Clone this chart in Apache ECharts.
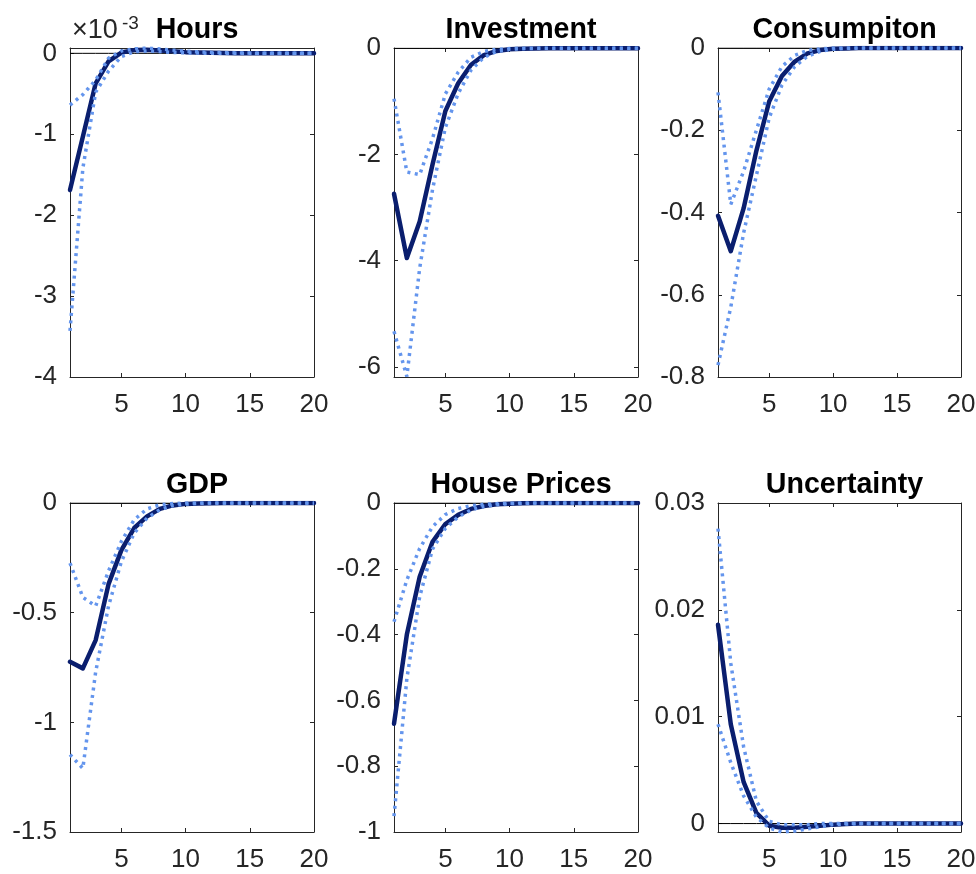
<!DOCTYPE html>
<html>
<head>
<meta charset="utf-8">
<script src="https://cdn.jsdelivr.net/npm/echarts@6/dist/echarts.min.js"></script>
<style>
html,body{margin:0;padding:0;background:#ffffff;}
#chart{width:976px;height:874px;}
</style>
</head>
<body>
<div id="chart"></div>
<script>
// ---------------- DATA ----------------
const periods = [1,2,3,4,5,6,7,8,9,10,11,12,13,14,15,16,17,18,19,20];
const xTicks = [5,10,15,20];

// Hours (values in units of 10^-3)
const hoursIrf = [-1.69,-1.03,-0.37,-0.10,0.01,0.04,0.045,0.035,0.025,0.015,0.01,0.006,0.004,0.002,0.001,0.001,0,0,0,0];
const hoursHi  = [-0.64,-0.51,-0.33,-0.06,0.03,0.055,0.066,0.055,0.04,0.028,0.018,0.012,0.008,0.005,0.003,0.002,0.001,0.001,0,0];
const hoursLo  = [-3.43,-1.42,-0.48,-0.22,-0.04,0.02,0.03,0.022,0.012,0.006,0.003,0.001,0,0,0,0,0,0,0,0];
const hoursTicks = [-4,-3,-2,-1,0];

// Investment
const invIrf = [-2.74,-3.95,-3.26,-2.19,-1.18,-0.66,-0.31,-0.13,-0.05,-0.02,-0.008,-0.003,-0.001,0,0,0,0,0,0,0];
const invHi  = [-0.95,-2.33,-2.38,-1.70,-0.86,-0.45,-0.17,-0.06,-0.02,-0.005,0,0,0,0,0,0,0,0,0,0];
const invLo  = [-5.33,-6.18,-4.14,-2.66,-1.49,-0.85,-0.41,-0.17,-0.06,-0.02,-0.007,-0.002,0,0,0,0,0,0,0,0];
const invTicks = [-6,-4,-2,0];

// Consumption
const consIrf = [-0.408,-0.494,-0.39,-0.25,-0.13,-0.068,-0.033,-0.013,-0.005,-0.002,-0.001,0,0,0,0,0,0,0,0,0];
const consHi  = [-0.108,-0.38,-0.30,-0.20,-0.10,-0.045,-0.018,-0.006,-0.002,0,0,0,0,0,0,0,0,0,0,0];
const consLo  = [-0.771,-0.63,-0.45,-0.31,-0.17,-0.09,-0.045,-0.02,-0.008,-0.003,-0.001,0,0,0,0,0,0,0,0,0];
const consTicks = [-0.8,-0.6,-0.4,-0.2,0];

// GDP
const gdpIrf = [-0.724,-0.754,-0.625,-0.37,-0.215,-0.114,-0.061,-0.027,-0.011,-0.004,-0.002,-0.001,0,0,0,0,0,0,0,0];
const gdpHi  = [-0.274,-0.43,-0.47,-0.31,-0.175,-0.076,-0.027,-0.008,-0.002,0,0,0,0,0,0,0,0,0,0,0];
const gdpLo  = [-1.147,-1.21,-0.77,-0.47,-0.267,-0.137,-0.069,-0.03,-0.012,-0.005,-0.002,0,0,0,0,0,0,0,0,0];
const gdpTicks = [-1.5,-1,-0.5,0];

// House Prices
const houseIrf = [-0.671,-0.40,-0.224,-0.118,-0.064,-0.036,-0.018,-0.009,-0.004,-0.002,-0.001,0,0,0,0,0,0,0,0,0];
const houseHi  = [-0.361,-0.234,-0.138,-0.072,-0.035,-0.017,-0.008,-0.004,-0.002,-0.001,0,0,0,0,0,0,0,0,0,0];
const houseLo  = [-0.952,-0.534,-0.285,-0.14,-0.077,-0.042,-0.021,-0.01,-0.005,-0.002,-0.001,0,0,0,0,0,0,0,0,0];
const houseTicks = [-1,-0.8,-0.6,-0.4,-0.2,0];

// Uncertainty
const uncIrf = [0.0186,0.0093,0.0039,0.0010,-0.0002,-0.0004,-0.0004,-0.0003,-0.0002,-0.0001,-0.00005,0,0,0,0,0,0,0,0,0];
const uncHi  = [0.0276,0.0150,0.0072,0.0021,0.0002,-0.0001,-0.0001,-0.0001,0,0,0,0,0,0,0,0,0,0,0,0];
const uncLo  = [0.0093,0.0057,0.0026,0.0006,-0.0004,-0.0008,-0.0007,-0.0005,-0.0003,-0.0001,-0.00005,0,0,0,0,0,0,0,0,0];
const uncTicks = [0,0.01,0.02,0.03];

const zeroRef = [0,0,0,0,0,0,0,0,0,0,0,0,0,0,0,0,0,0,0,0];

// ---------------- LAYOUT ----------------
const FONT = 'Liberation Sans, Arial, Helvetica, sans-serif';
const AXIS_COLOR = '#262626';
const SOLID_COLOR = '#0a1e6e';
const DOT_COLOR = '#6495ED';

const panels = [
  {title:'Hours',        irf:hoursIrf, hi:hoursHi, lo:hoursLo, ticks:hoursTicks, min:-4,      max:0.066,  left:70,  top:48,  width:244, height:329},
  {title:'Investment',   irf:invIrf,   hi:invHi,   lo:invLo,   ticks:invTicks,   min:-6.19,   max:0.005,  left:394, top:48,  width:244, height:329},
  {title:'Consumpiton',  irf:consIrf,  hi:consHi,  lo:consLo,  ticks:consTicks,  min:-0.8,    max:0,      left:718, top:48,  width:243, height:329},
  {title:'GDP',          irf:gdpIrf,   hi:gdpHi,   lo:gdpLo,   ticks:gdpTicks,   min:-1.5,    max:0,      left:70,  top:503, width:244, height:329},
  {title:'House Prices', irf:houseIrf, hi:houseHi, lo:houseLo, ticks:houseTicks, min:-1,      max:0,      left:394, top:503, width:244, height:329},
  {title:'Uncertainty',  irf:uncIrf,   hi:uncHi,   lo:uncLo,   ticks:uncTicks,   min:-0.00079,max:0.03,   left:718, top:503, width:243, height:329}
];

function fmt(v){ return String(parseFloat(Number(v).toPrecision(10))); }
function pairs(arr){ return periods.map((p,k)=>[p, arr[k]]); }

const option = {
  animation:false,
  backgroundColor:'#ffffff',
  title:[], grid:[], xAxis:[], yAxis:[], series:[],
  graphic:[
    {type:'text', left:72, top:17, style:{text:'\u00d710', font:'27px ' + FONT, fill:AXIS_COLOR}},
    {type:'text', left:122, top:14, style:{text:'-3', font:'19px ' + FONT, fill:AXIS_COLOR}}
  ]
};

panels.forEach((p,i)=>{
  option.title.push({
    text:p.title,
    left:p.left + p.width/2,
    top:p.top - 37,
    textAlign:'center',
    textStyle:{fontSize:28.6, fontWeight:'bold', color:'#000000', fontFamily:FONT}
  });
  option.grid.push({left:p.left, top:p.top, width:p.width, height:p.height, containLabel:false, outerBoundsMode:'none', show:false});
  const axLine = {show:true, onZero:false, lineStyle:{color:AXIS_COLOR, width:1}};
  const tick = (vals)=>({show:true, inside:true, length:4, customValues:vals, lineStyle:{color:AXIS_COLOR, width:1}});
  option.xAxis.push({gridIndex:i, type:'value', position:'bottom', min:1, max:20,
    axisLine:axLine, axisTick:tick(xTicks),
    axisLabel:{show:true, customValues:xTicks, fontSize:26, color:AXIS_COLOR, margin:15, fontFamily:FONT, formatter:fmt},
    splitLine:{show:false}});
  option.xAxis.push({gridIndex:i, type:'value', position:'top', min:1, max:20,
    axisLine:axLine, axisTick:tick(xTicks), axisLabel:{show:false}, splitLine:{show:false}});
  option.yAxis.push({gridIndex:i, type:'value', position:'left', min:p.min, max:p.max,
    axisLine:axLine, axisTick:tick(p.ticks),
    axisLabel:{show:true, customValues:p.ticks, fontSize:26, color:AXIS_COLOR, margin:13, fontFamily:FONT, formatter:fmt},
    splitLine:{show:false}});
  option.yAxis.push({gridIndex:i, type:'value', position:'right', min:p.min, max:p.max,
    axisLine:axLine, axisTick:tick(p.ticks), axisLabel:{show:false}, splitLine:{show:false}});
  const xi = 2*i, yi = 2*i;
  option.series.push({type:'line', xAxisIndex:xi, yAxisIndex:yi, data:pairs(zeroRef), showSymbol:false, silent:true, z:1,
    lineStyle:{color:'#000000', width:1}});
  option.series.push({type:'line', xAxisIndex:xi, yAxisIndex:yi, data:pairs(p.irf), showSymbol:false, silent:true, z:2,
    lineStyle:{color:SOLID_COLOR, width:4.5, join:'round', cap:'round'}});
  option.series.push({type:'line', xAxisIndex:xi, yAxisIndex:yi, data:pairs(p.hi), showSymbol:false, silent:true, z:3,
    lineStyle:{color:DOT_COLOR, width:3.5, type:[3,4.5], cap:'butt'}});
  option.series.push({type:'line', xAxisIndex:xi, yAxisIndex:yi, data:pairs(p.lo), showSymbol:false, silent:true, z:3,
    lineStyle:{color:DOT_COLOR, width:3.5, type:[3,4.5], cap:'butt'}});
});

const chart = echarts.init(document.getElementById('chart'), null, {renderer:'canvas'});
chart.setOption(option);
</script>
</body>
</html>
